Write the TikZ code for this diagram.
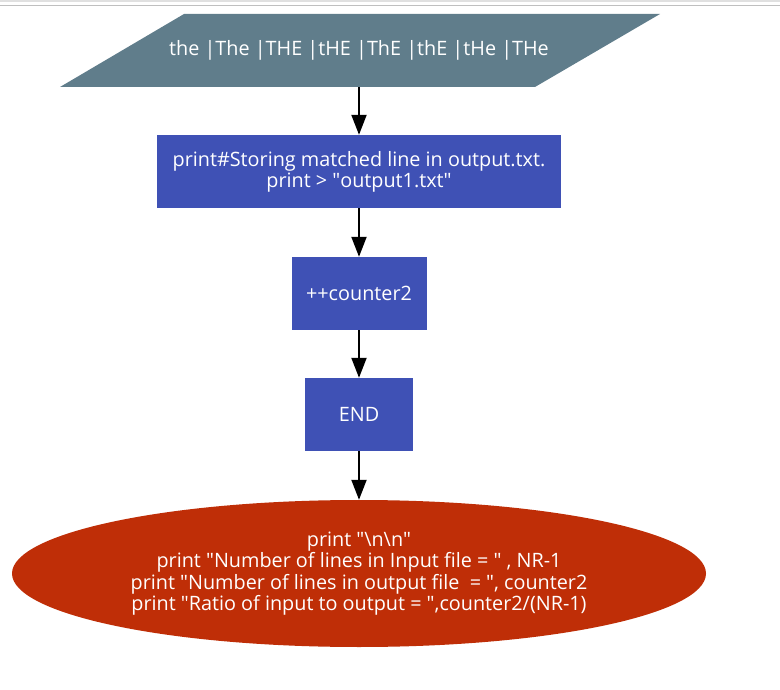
\documentclass[tikz,border=0pt]{standalone}
\usepackage{fontspec}
\setmainfont{Open Sans}
\usetikzlibrary{arrows.meta,shapes.geometric}
\definecolor{inputgrey}{RGB}{96,125,139}
\definecolor{stepblue}{RGB}{63,81,181}
\definecolor{endred}{RGB}{191,46,7}
\def\qt{\textquotedbl}
\tikzset{
  flowline/.style={-{Triangle[length=20pt,width=15pt]}, line width=2pt, black},
  stepbox/.style={rectangle, fill=stepblue, text=white, align=center,
                  inner sep=0pt, font=\fontsize{19.8}{21}\selectfont},
  iobox/.style={text=white, align=center, inner sep=0pt,
                font=\fontsize{19.8}{21}\selectfont},
  finalnode/.style={ellipse, fill=endred, text=white, align=center, inner sep=0pt,
                    font=\fontsize{19.8}{21.5}\selectfont}
}
\begin{document}
\begin{tikzpicture}[x=1pt,y=-1pt]
\useasboundingbox (0,0) rectangle (780,690);
% window edge
\fill[black!12] (0,0) rectangle (780,2);
\draw[black!25, line width=0.8pt] (0,5.5) -- (780,5.5);
% input pattern
\fill[inputgrey] (60,87) -- (184,14) -- (660,14) -- (535,87) -- cycle;
\node (pattern) [iobox, minimum height=73pt] at (359,50.5)
  {the |The |THE |tHE |ThE |thE |tHe |THe};
% actions
\node (store) [stepbox, minimum width=404pt, minimum height=73pt] at (359,171.5)
  {print\#Storing matched line in output.txt.\\print > \qt output1.txt\qt};
\node (count) [stepbox, minimum width=135pt, minimum height=73pt] at (359,293.5)
  {++counter2};
\node (stop) [stepbox, minimum width=108pt, minimum height=73pt] at (359,414.5)
  {END};
\node (report) [finalnode, minimum width=694pt, minimum height=147pt] at (359,573.5)
  {print \qt\textbackslash n\textbackslash n\qt\\
   print \qt Number of lines in Input file = \qt\ , NR-1\\
   print \qt Number of lines in output file \ = \qt, counter2\\
   print \qt Ratio of input to output = \qt,counter2/(NR-1)};
% arrows
\draw[flowline] (pattern.south) -- (store.north);
\draw[flowline] (store.south) -- (count.north);
\draw[flowline] (count.south) -- (stop.north);
\draw[flowline] (stop.south) -- (report.north);
\end{tikzpicture}
\end{document}
